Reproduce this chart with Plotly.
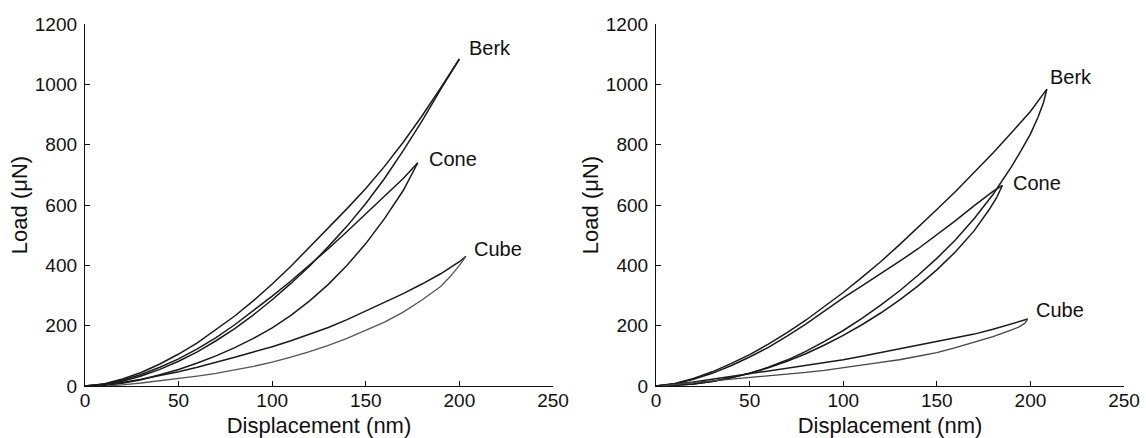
import plotly.graph_objects as go

# ---------------- Left panel data ----------------
L_berk_load_x = [0, 10, 20, 30, 40, 50, 60, 70, 80, 90, 100, 110, 120, 130, 140, 150, 160, 170, 180, 190, 200]
L_berk_load_y = [0, 7, 23, 45, 73, 106, 143, 186, 232, 283, 338, 397, 460, 524, 588, 655, 728, 808, 895, 988, 1084]
L_berk_unload_x = [200, 195, 190, 180, 170, 160, 150, 140, 130, 120, 110, 100, 90, 80, 70, 60, 50, 40, 30, 20, 10, 4]
L_berk_unload_y = [1084, 1035, 983, 878, 780, 688, 605, 530, 462, 398, 340, 286, 236, 190, 150, 113, 82, 55, 33, 16, 5, 0]

L_cone_load_x = [0, 10, 20, 30, 40, 50, 60, 70, 80, 90, 100, 110, 120, 130, 140, 150, 160, 170, 177.8]
L_cone_load_y = [0, 6, 19, 38, 62, 90, 123, 160, 203, 250, 298, 348, 400, 455, 512, 570, 628, 688, 740]
L_cone_unload_x = [177.8, 175, 170, 160, 150, 140, 130, 120, 110, 100, 90, 80, 70, 60, 50, 40, 30, 20, 12, 8]
L_cone_unload_y = [740, 705, 648, 555, 472, 400, 337, 282, 234, 193, 158, 127, 100, 76, 55, 37, 21, 9, 2, 0]

L_cube_load_x = [0, 10, 20, 30, 40, 50, 60, 70, 80, 90, 100, 110, 120, 130, 140, 150, 160, 170, 180, 190, 200, 203.5]
L_cube_load_y = [0, 5, 12, 22, 34, 47, 62, 78, 95, 113, 130, 150, 171, 194, 220, 248, 276, 306, 338, 372, 412, 430]
L_cube_unload_x = [203.5, 200, 195, 190, 180, 170, 160, 150, 140, 130, 120, 110, 100, 90, 80, 70, 60, 50, 40, 30, 20, 12]
L_cube_unload_y = [430, 400, 362, 330, 285, 245, 212, 184, 158, 135, 114, 96, 79, 65, 53, 42, 33, 25, 17, 10, 4, 0]

# ---------------- Right panel data ----------------
R_berk_load_x = [0, 10, 20, 30, 40, 50, 60, 70, 80, 90, 100, 110, 120, 130, 140, 150, 160, 170, 180, 190, 200, 208.8]
R_berk_load_y = [0, 8, 25, 47, 74, 104, 139, 177, 218, 263, 310, 360, 412, 468, 525, 585, 645, 708, 772, 840, 910, 984]
R_berk_unload_x = [208.8, 207, 204, 200, 195, 190, 180, 170, 160, 150, 140, 130, 120, 110, 100, 90, 80, 70, 60, 50, 40, 30, 20, 10, 4]
R_berk_unload_y = [984, 940, 890, 835, 780, 728, 635, 555, 485, 423, 367, 315, 268, 224, 184, 148, 115, 86, 62, 42, 27, 15, 7, 2, 0]

R_cone_load_x = [0, 10, 20, 30, 40, 50, 60, 70, 80, 90, 100, 110, 120, 130, 140, 150, 160, 170, 180, 185]
R_cone_load_y = [0, 7, 22, 42, 67, 96, 128, 165, 205, 250, 292, 332, 372, 413, 455, 500, 548, 598, 645, 665]
R_cone_unload_x = [185, 182, 178, 170, 160, 150, 140, 130, 120, 110, 100, 90, 80, 70, 60, 50, 40, 30, 20, 10, 5]
R_cone_unload_y = [665, 625, 585, 515, 445, 385, 332, 285, 242, 203, 168, 136, 107, 82, 60, 42, 27, 15, 7, 2, 0]

R_cube_load_x = [0, 10, 20, 30, 40, 50, 60, 70, 80, 90, 100, 110, 120, 130, 140, 150, 160, 170, 180, 190, 198.6]
R_cube_load_y = [0, 6, 13, 22, 31, 42, 51, 60, 68, 77, 87, 99, 111, 123, 135, 147, 159, 172, 188, 205, 222]
R_cube_unload_x = [198.6, 197, 194, 190, 180, 170, 160, 150, 140, 130, 120, 110, 100, 90, 80, 70, 60, 50, 40, 30, 20, 10, 3]
R_cube_unload_y = [222, 208, 196, 186, 164, 145, 127, 111, 98, 87, 78, 69, 60, 52, 45, 39, 33, 28, 21, 17, 12, 6, 0]

# Labels
tip_names = ["Berk", "Cone", "Cube"]
L_label_x = [204, 182.5, 206.5]
L_label_y = [1120, 752, 454]
R_label_x = [209.5, 189.5, 202]
R_label_y = [1024, 674, 252]

x_ticks = [0, 50, 100, 150, 200, 250]
y_ticks = [0, 200, 400, 600, 800, 1000, 1200]
x_title = "Displacement (nm)"
y_title = "Load (μN)"

FONT = "Liberation Sans, Arial, Helvetica, sans-serif"
LINE_COLOR = "#1a1a1a"

fig = go.Figure()

def add_curve(xs, ys, xa, ya, color=LINE_COLOR, width=1.5):
    fig.add_trace(go.Scatter(x=xs, y=ys, xaxis=xa, yaxis=ya, mode="lines",
                             line=dict(color=color, width=width), showlegend=False,
                             hoverinfo="skip"))

for xs, ys in [(L_berk_load_x, L_berk_load_y), (L_berk_unload_x, L_berk_unload_y),
               (L_cone_load_x, L_cone_load_y), (L_cone_unload_x, L_cone_unload_y),
               (L_cube_load_x, L_cube_load_y)]:
    add_curve(xs, ys, "x", "y")
add_curve(L_cube_unload_x, L_cube_unload_y, "x", "y", color="#555555", width=1.3)

for xs, ys in [(R_berk_load_x, R_berk_load_y), (R_berk_unload_x, R_berk_unload_y),
               (R_cone_load_x, R_cone_load_y), (R_cone_unload_x, R_cone_unload_y),
               (R_cube_load_x, R_cube_load_y)]:
    add_curve(xs, ys, "x2", "y2")
add_curve(R_cube_unload_x, R_cube_unload_y, "x2", "y2", color="#444444", width=1.3)

for name, lx, ly in zip(tip_names, L_label_x, L_label_y):
    fig.add_annotation(x=lx, y=ly, xref="x", yref="y", text=name, showarrow=False,
                       xanchor="left", yanchor="middle",
                       font=dict(family=FONT, size=20, color="#111"))
for name, lx, ly in zip(tip_names, R_label_x, R_label_y):
    fig.add_annotation(x=lx, y=ly, xref="x2", yref="y2", text=name, showarrow=False,
                       xanchor="left", yanchor="middle",
                       font=dict(family=FONT, size=20, color="#111"))

axis_common = dict(showgrid=False, zeroline=False, showline=True, linecolor="#111",
                   linewidth=1.3, ticks="inside", ticklen=5, tickwidth=1.2,
                   tickcolor="#111", tickfont=dict(family=FONT, size=19, color="#111"),
                   mirror=False, automargin=False)

xaxis_cfg = dict(axis_common, range=[0, 250], tickvals=x_ticks,
                 ticktext=[str(v) for v in x_ticks], ticklabelstandoff=-3,
                 title=dict(text=x_title, font=dict(family=FONT, size=22, color="#111"), standoff=7))
yaxis_cfg = dict(axis_common, range=[0, 1200], tickvals=y_ticks,
                 ticktext=[str(v) for v in y_ticks], ticklabelstandoff=3,
                 title=dict(text=y_title, font=dict(family=FONT, size=22, color="#111"), standoff=1))

fig.update_layout(
    width=1146, height=438,
    margin=dict(l=85, r=22, t=24, b=52),
    paper_bgcolor="white", plot_bgcolor="white",
    xaxis=dict(xaxis_cfg, domain=[0, 0.4504], anchor="y"),
    yaxis=dict(yaxis_cfg, domain=[0, 1], anchor="x"),
    xaxis2=dict(xaxis_cfg, domain=[0.5496, 1], anchor="y2"),
    yaxis2=dict(yaxis_cfg, domain=[0, 1], anchor="x2"),
    showlegend=False,
)

fig.write_html("out.html")
